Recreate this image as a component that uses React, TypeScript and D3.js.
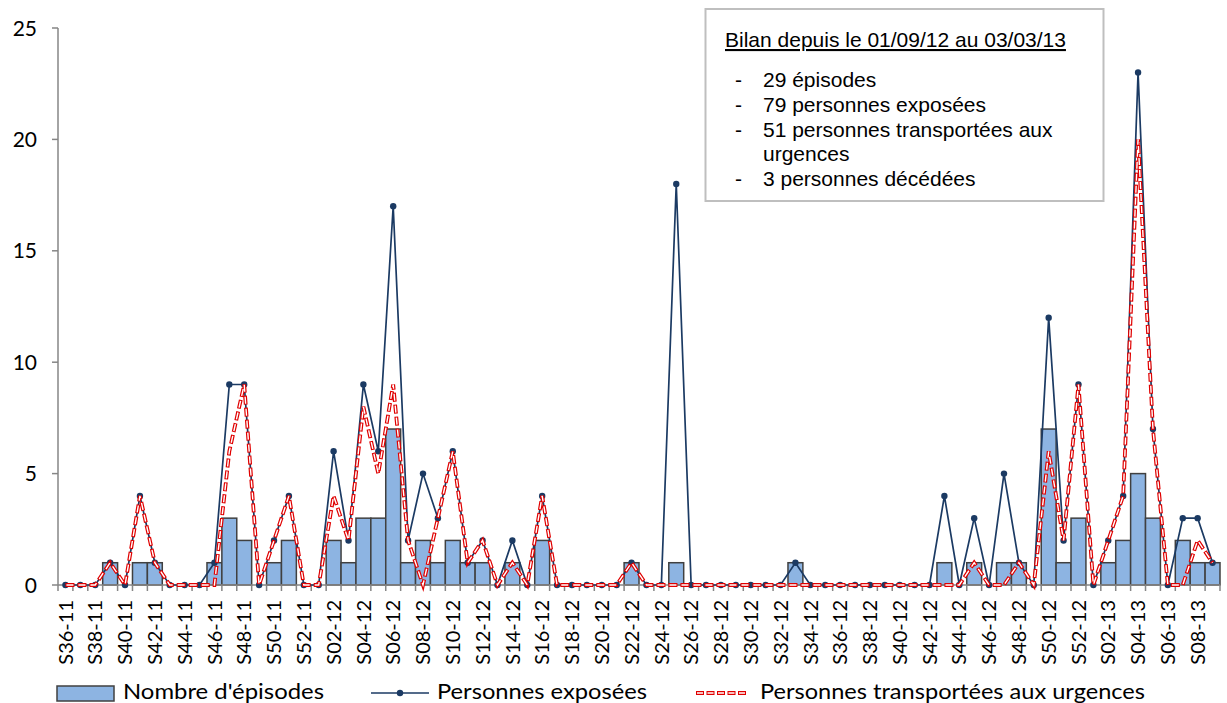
import * as d3 from "d3";
import { useRef, useEffect } from "react";

// weeks S36-11 .. S09-13
const weeks = [
  "S36-11", "S37-11", "S38-11", "S39-11", "S40-11", "S41-11", "S42-11", "S43-11", "S44-11",
  "S45-11", "S46-11", "S47-11", "S48-11", "S49-11", "S50-11", "S51-11", "S52-11",
  "S01-12", "S02-12", "S03-12", "S04-12", "S05-12", "S06-12", "S07-12", "S08-12", "S09-12",
  "S10-12", "S11-12", "S12-12", "S13-12", "S14-12", "S15-12", "S16-12", "S17-12", "S18-12",
  "S19-12", "S20-12", "S21-12", "S22-12", "S23-12", "S24-12", "S25-12", "S26-12", "S27-12",
  "S28-12", "S29-12", "S30-12", "S31-12", "S32-12", "S33-12", "S34-12", "S35-12", "S36-12",
  "S37-12", "S38-12", "S39-12", "S40-12", "S41-12", "S42-12", "S43-12", "S44-12", "S45-12",
  "S46-12", "S47-12", "S48-12", "S49-12", "S50-12", "S51-12", "S52-12",
  "S01-13", "S02-13", "S03-13", "S04-13", "S05-13", "S06-13", "S07-13", "S08-13", "S09-13",
];

const episodes = [
  0, 0, 0, 1, 0, 1, 1, 0, 0, 0, 1, 3, 2, 0, 1, 2, 0,
  0, 2, 1, 3, 3, 7, 1, 2, 1, 2, 1, 1, 0, 1, 0, 2, 0, 0, 0, 0, 0, 1, 0, 0, 1, 0, 0,
  0, 0, 0, 0, 0, 1, 0, 0, 0, 0, 0, 0, 0, 0, 0, 1, 0, 1, 0, 1, 1, 0, 7, 1, 3,
  0, 1, 2, 5, 3, 0, 2, 1, 1,
];

const exposed = [
  0, 0, 0, 1, 0, 4, 1, 0, 0, 0, 1, 9, 9, 0, 2, 4, 0,
  0, 6, 2, 9, 6, 17, 2, 5, 3, 6, 1, 2, 0, 2, 0, 4, 0, 0, 0, 0, 0, 1, 0, 0, 18, 0, 0,
  0, 0, 0, 0, 0, 1, 0, 0, 0, 0, 0, 0, 0, 0, 0, 4, 0, 3, 0, 5, 1, 0, 12, 2, 9,
  0, 2, 4, 23, 7, 0, 3, 3, 1,
];

const transported = [
  0, 0, 0, 1, 0, 4, 1, 0, 0, 0, 0, 6, 9, 0, 2, 4, 0,
  0, 4, 2, 8, 5, 9, 2, 0, 3, 6, 1, 2, 0, 1, 0, 4, 0, 0, 0, 0, 0, 1, 0, 0, 0, 0, 0,
  0, 0, 0, 0, 0, 0, 0, 0, 0, 0, 0, 0, 0, 0, 0, 0, 0, 1, 0, 0, 1, 0, 6, 2, 9,
  0, 2, 4, 20, 7, 0, 0, 2, 1,
];

const yTicks = [0, 5, 10, 15, 20, 25];

const boxTitle = "Bilan depuis le 01/09/12 au 03/03/13";
const boxLines = [
  { dash: true, text: "29 épisodes" },
  { dash: true, text: "79 personnes exposées" },
  { dash: true, text: "51 personnes transportées aux" },
  { dash: false, text: "urgences" },
  { dash: true, text: "3 personnes décédées" },
];

const W = 1227;
const H = 703;
const BAR_FILL = "#8db4e2";
const BAR_STROKE = "#404040";
const NAVY = "#1b3a63";
const RED = "#e00000";
const AXIS = "#868686";
const FONT = "Lato, 'Open Sans', sans-serif";

function draw(svgEl: SVGSVGElement | null) {
  if (!svgEl) return;
  const svg = d3.select(svgEl);
  svg.selectAll("*").remove();

  const x = d3.scaleBand<string>().domain(weeks).range([58, 1220]).padding(0);
  const y = d3.scaleLinear().domain([0, 25]).range([585, 28]);
  const cx = (i: number) => x(weeks[i])! + x.bandwidth() / 2;

  // bars
  svg
    .append("g")
    .selectAll("rect")
    .data(episodes.map((v, i) => ({ v, i })).filter((d) => d.v > 0))
    .join("rect")
    .attr("x", (d) => x(weeks[d.i])!)
    .attr("y", (d) => y(d.v))
    .attr("width", x.bandwidth())
    .attr("height", (d) => y(0) - y(d.v))
    .attr("fill", BAR_FILL)
    .attr("stroke", BAR_STROKE)
    .attr("stroke-width", 1.5);

  // y axis
  const yAxis = svg.append("g").attr("transform", "translate(58,0)");
  yAxis.append("line").attr("y1", y(25)).attr("y2", y(0)).attr("stroke", AXIS).attr("stroke-width", 1.5);
  yAxis
    .selectAll("line.tick")
    .data(yTicks)
    .join("line")
    .attr("class", "tick")
    .attr("x1", -6)
    .attr("x2", 0)
    .attr("y1", (d) => y(d))
    .attr("y2", (d) => y(d))
    .attr("stroke", AXIS)
    .attr("stroke-width", 1.5);
  yAxis
    .selectAll("text")
    .data(yTicks)
    .join("text")
    .attr("x", -21)
    .attr("y", (d) => y(d))
    .attr("dy", "0.36em")
    .attr("text-anchor", "end")
    .attr("font-family", FONT)
    .attr("font-size", 21)
    .attr("fill", "#000")
    .text((d) => d);

  // x axis
  const xAxis = svg.append("g");
  xAxis.append("line").attr("x1", 58).attr("x2", 1220).attr("y1", y(0)).attr("y2", y(0)).attr("stroke", AXIS).attr("stroke-width", 1.5);
  xAxis
    .selectAll("line.tick")
    .data(weeks.map((w) => x(w)!).concat([1220]))
    .join("line")
    .attr("class", "tick")
    .attr("x1", (d) => d)
    .attr("x2", (d) => d)
    .attr("y1", y(0))
    .attr("y2", y(0) + 6)
    .attr("stroke", AXIS)
    .attr("stroke-width", 1.5);
  xAxis
    .selectAll("text")
    .data(weeks.filter((_, i) => i % 2 === 0))
    .join("text")
    .attr("transform", (d) => `translate(${x(d)! + x.bandwidth() / 2},600) rotate(-90)`)
    .attr("dy", "0.36em")
    .attr("text-anchor", "end")
    .attr("font-family", FONT)
    .attr("font-size", 20)
    .text((d) => d);

  const line = d3
    .line<number>()
    .x((_, i) => cx(i))
    .y((d) => y(d));

  // exposed
  svg.append("path").datum(exposed).attr("d", line).attr("fill", "none").attr("stroke", NAVY).attr("stroke-width", 1.7);
  svg
    .append("g")
    .selectAll("circle")
    .data(exposed)
    .join("circle")
    .attr("cx", (_, i) => cx(i))
    .attr("cy", (d) => y(d))
    .attr("r", 3.2)
    .attr("fill", NAVY);

  // transported: red double dashed line
  svg.append("path").datum(transported).attr("d", line).attr("fill", "none").attr("stroke", RED).attr("stroke-width", 3.8).attr("stroke-dasharray", "9,3");
  svg
    .append("path")
    .datum(transported)
    .attr("d", line)
    .attr("fill", "none")
    .attr("stroke", "#fff")
    .attr("stroke-width", 1.4)
    .attr("stroke-dasharray", "7,5")
    .attr("stroke-dashoffset", -1);

  // summary box
  const box = svg.append("g");
  box.append("rect").attr("x", 705.5).attr("y", 9).attr("width", 398).attr("height", 192).attr("fill", "#fff").attr("stroke", "#bfbfbf").attr("stroke-width", 2);
  const boxFont = "'Liberation Sans', Arial, sans-serif";
  box
    .append("text")
    .attr("x", 725)
    .attr("y", 47)
    .attr("font-family", boxFont)
    .attr("font-size", 21)
    .attr("text-decoration", "underline")
    .text(boxTitle);
  const baselines = [87, 112, 137, 161, 186];
  boxLines.forEach((l, i) => {
    if (l.dash)
      box.append("text").attr("x", 735).attr("y", baselines[i]).attr("font-family", boxFont).attr("font-size", 21).text("-");
    box.append("text").attr("x", 763).attr("y", baselines[i]).attr("font-family", boxFont).attr("font-size", 21).text(l.text);
  });

  // legend
  const lg = svg.append("g").attr("font-family", FONT).attr("font-size", 21.5);
  lg.append("rect").attr("x", 57).attr("y", 686).attr("width", 57).attr("height", 15).attr("fill", BAR_FILL).attr("stroke", BAR_STROKE).attr("stroke-width", 1.5);
  lg.append("text").attr("x", 123).attr("y", 699).attr("textLength", 201).attr("lengthAdjust", "spacingAndGlyphs").text("Nombre d'épisodes");
  lg.append("line").attr("x1", 371).attr("x2", 429).attr("y1", 693).attr("y2", 693).attr("stroke", NAVY).attr("stroke-width", 1.7);
  lg.append("circle").attr("cx", 400).attr("cy", 693).attr("r", 3.2).attr("fill", NAVY);
  lg.append("text").attr("x", 437).attr("y", 699).attr("textLength", 210).attr("lengthAdjust", "spacingAndGlyphs").text("Personnes exposées");
  lg.append("line").attr("x1", 696).attr("x2", 748).attr("y1", 693).attr("y2", 693).attr("stroke", RED).attr("stroke-width", 3.8).attr("stroke-dasharray", "8,2.5");
  lg.append("line").attr("x1", 696).attr("x2", 748).attr("y1", 693).attr("y2", 693).attr("stroke", "#fff").attr("stroke-width", 1.4).attr("stroke-dasharray", "6,4.5").attr("stroke-dashoffset", -1);
  lg.append("text").attr("x", 760).attr("y", 699).attr("textLength", 385).attr("lengthAdjust", "spacingAndGlyphs").text("Personnes transportées aux urgences");
}

const App = () => {
  const ref = useRef<SVGSVGElement | null>(null);

  useEffect(() => {
    draw(ref.current);
  }, []);

  return (
    <div style={{ position: "fixed", left: 0, top: 0 }}>
      <svg ref={ref} width={W} height={H} style={{ display: "block", background: "#fff" }}></svg>
    </div>
  );
};

export default App;
